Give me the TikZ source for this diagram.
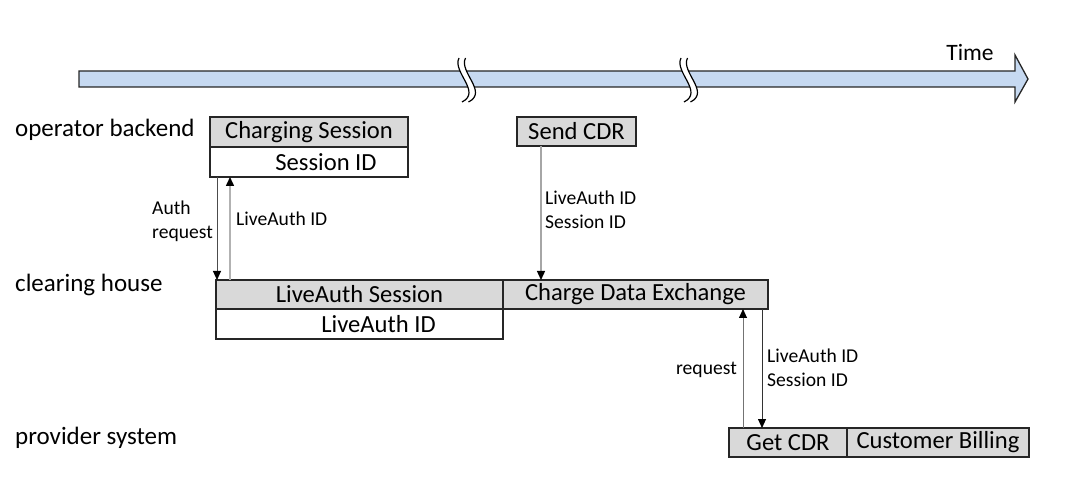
\documentclass[tikz,border=0pt]{standalone}
\usepackage{fontspec}
\setmainfont{Carlito}
\usetikzlibrary{arrows.meta,calc}
\definecolor{boxgray}{HTML}{D9D9D9}
\definecolor{barblue}{HTML}{C6D9F1}
\definecolor{edge}{HTML}{262626}
\begin{document}
\begin{tikzpicture}[x=1pt,y=-1pt,
  box/.style={draw=edge,line width=1.2pt,fill=boxgray,inner sep=0pt,outer sep=0pt,anchor=north west,font=\fontsize{24.6}{27}\selectfont},
  wbox/.style={box,fill=white},
  lane/.style={anchor=base west,inner sep=0pt,font=\fontsize{25}{27}\selectfont},
  small/.style={inner sep=0pt,font=\fontsize{19.6}{23.5}\selectfont,align=left},
  msg/.style={line width=0.9pt,-{Triangle[length=9pt,width=8pt,color=black]}},
  breakline/.style={line width=1.2pt,draw=black}
]
\useasboundingbox (0,0) rectangle (1069,497);

% time bar
\draw[fill=barblue,draw=edge,line width=1.3pt,line join=miter]
  (79,71) -- (1015,71) -- (1015,55) -- (1028,79) -- (1015,102) -- (1015,87) -- (79,87) -- cycle;
\node[inner sep=0pt,anchor=base,font=\fontsize{23.5}{25}\selectfont] (time) at (970,61) {Time};

% break marks
\foreach \cx in {459,681}{
  \fill[white] (\cx,58) .. controls (\cx-7,72) and (\cx+23,92) .. (\cx+3,102)
     -- (\cx+9.5,102) .. controls (\cx+29.5,92) and (\cx-0.5,72) .. (\cx+6.5,58) -- cycle;
  \draw[breakline] (\cx,58) .. controls (\cx-7,72) and (\cx+23,92) .. (\cx+3,102);
  \draw[breakline] (\cx+6.5,58) .. controls (\cx-0.5,72) and (\cx+29.5,92) .. (\cx+9.5,102);
}

% lanes
\node[lane] (l1) at (15,137) {operator backend};
\node[lane] (l2) at (15,291) {clearing house};
\node[lane] (l3) at (15,444) {provider system};

% boxes
\node[box,minimum width=198pt,minimum height=30pt] (cs) at (210,117) {Charging Session};
\node[wbox,minimum width=198pt,minimum height=30pt] (sid) at (210,147) {\hspace*{34pt}Session ID};
\node[box,minimum width=119pt,minimum height=29pt] (send) at (517,117) {Send CDR};
\node[box,minimum width=287pt,minimum height=29pt] (las) at (216,280) {LiveAuth Session};
\node[wbox,minimum width=287pt,minimum height=30pt] (laid) at (216,309) {\hspace*{38pt}LiveAuth ID};
\node[box,minimum width=265pt,minimum height=29pt] (cde) at (503,280) {Charge Data Exchange};
\node[box,minimum width=118pt,minimum height=29pt] (get) at (729,428) {Get CDR};
\node[box,minimum width=182pt,minimum height=29pt] (bill) at (847,428) {Customer Billing};

% connectors
\coordinate (a1) at ($(sid.south west)+(7,0)$);
\draw[msg,draw=black!70] (a1) -- (a1 |- las.north);
\coordinate (a2) at ($(las.north west)+(14,0)$);
\draw[msg,draw=black!30,line width=1.5pt] (a2) -- (a2 |- sid.south);
\coordinate (a3) at ($(send.south west)+(24,0)$);
\draw[msg,draw=black!35,line width=1.3pt] (a3) -- (a3 |- cde.north);
\coordinate (a4) at ($(get.north west)+(14,0)$);
\draw[msg,draw=black!55] (a4) -- (a4 |- cde.south);
\coordinate (a5) at ($(cde.south east)+(-6,0)$);
\draw[msg,draw=black!80] (a5) -- (a5 |- get.north);

% labels
\node[small,anchor=west] (t1) at (152,221.5) {Auth\\request};
\node[small,anchor=west] (t2) at (236,219) {LiveAuth ID};
\node[small,anchor=west] (t3) at (545,210) {LiveAuth ID\\Session ID};
\node[small,anchor=east] (t4) at (737,370) {request};
\node[small,anchor=west] (t5) at (767,368) {LiveAuth ID\\Session ID};
\end{tikzpicture}
\end{document}
